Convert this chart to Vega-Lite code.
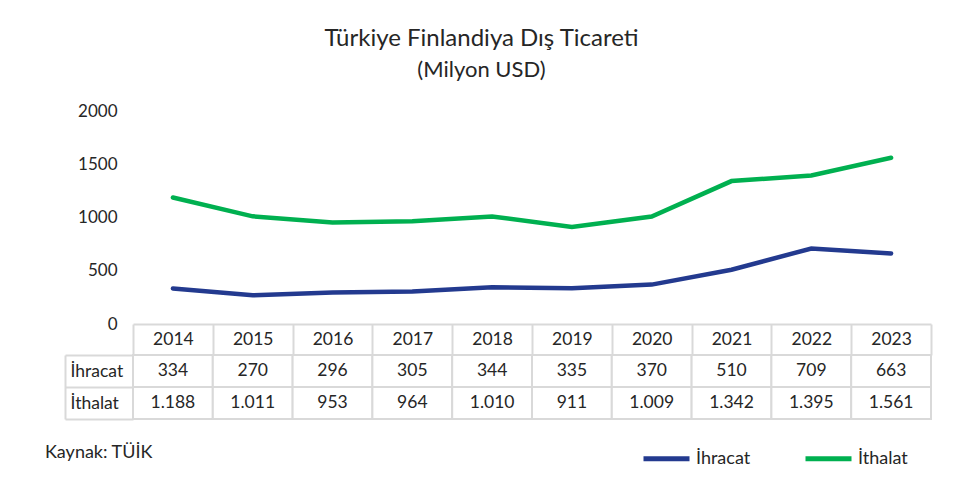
{
  "$schema": "https://vega.github.io/schema/vega-lite/v6.json",
  "padding": {"left": 45, "top": 27, "right": 20, "bottom": 10},
  "bounds": "flush",
  "spacing": 31,
  "config": {
    "font": "Lato",
    "view": {"stroke": null},
    "locale": {"number": {"decimal": ",", "thousands": ".", "grouping": [3], "currency": ["", " TL"]}},
    "axis": {"labelFont": "Lato", "labelColor": "#262626", "labelFontSize": 17.5}
  },
  "title": {
    "text": "Türkiye Finlandiya Dış Ticareti",
    "subtitle": "(Milyon USD)",
    "fontSize": 24,
    "subtitleFontSize": 22,
    "fontWeight": "normal",
    "color": "#262626",
    "subtitleColor": "#262626",
    "subtitleFont": "Lato",
    "anchor": "middle",
    "frame": "bounds",
    "subtitlePadding": 9,
    "offset": 21,
    "dx": -7
  },
  "datasets": {
    "trade": [
      {"year": "2014", "series": "İhracat", "value": 334},
      {"year": "2015", "series": "İhracat", "value": 270},
      {"year": "2016", "series": "İhracat", "value": 296},
      {"year": "2017", "series": "İhracat", "value": 305},
      {"year": "2018", "series": "İhracat", "value": 344},
      {"year": "2019", "series": "İhracat", "value": 335},
      {"year": "2020", "series": "İhracat", "value": 370},
      {"year": "2021", "series": "İhracat", "value": 510},
      {"year": "2022", "series": "İhracat", "value": 709},
      {"year": "2023", "series": "İhracat", "value": 663},
      {"year": "2014", "series": "İthalat", "value": 1188},
      {"year": "2015", "series": "İthalat", "value": 1011},
      {"year": "2016", "series": "İthalat", "value": 953},
      {"year": "2017", "series": "İthalat", "value": 964},
      {"year": "2018", "series": "İthalat", "value": 1010},
      {"year": "2019", "series": "İthalat", "value": 911},
      {"year": "2020", "series": "İthalat", "value": 1009},
      {"year": "2021", "series": "İthalat", "value": 1342},
      {"year": "2022", "series": "İthalat", "value": 1395},
      {"year": "2023", "series": "İthalat", "value": 1561}
    ]
  },
  "vconcat": [
    {
      "width": 798,
      "height": 213,
      "data": {"name": "trade"},
      "mark": {"type": "line", "strokeWidth": 4.5, "strokeCap": "round"},
      "encoding": {
        "x": {
          "field": "year", "type": "ordinal",
          "scale": {"type": "band", "paddingInner": 0, "paddingOuter": 0},
          "axis": {
            "title": null, "labelAngle": 0,
            "domainColor": "#d9d9d9", "domainWidth": 2,
            "tickBand": "extent", "tickSize": 31, "tickColor": "#d9d9d9", "tickWidth": 2,
            "labelBaseline": "middle", "labelPadding": -15.5
          }
        },
        "y": {
          "field": "value", "type": "quantitative",
          "scale": {"domain": [0, 2000]},
          "axis": {
            "title": null, "values": [0, 500, 1000, 1500, 2000], "format": "d",
            "grid": false, "domain": false, "ticks": false, "labelPadding": 16,
            "labelFontSize": 17
          }
        },
        "color": {
          "field": "series", "type": "nominal",
          "scale": {"domain": ["İhracat", "İthalat"], "range": ["#233a8f", "#00b050"]},
          "legend": {
            "title": null, "orient": "none", "legendX": 508, "legendY": 322,
            "direction": "horizontal", "symbolType": "stroke", "symbolSize": 2116,
            "symbolStrokeWidth": 5, "labelFontSize": 18, "labelColor": "#262626",
            "labelOffset": 4, "columnPadding": 44, "labelFont": "Lato"
          }
        }
      }
    },
    {
      "width": 798,
      "height": 64,
      "data": {"name": "trade"},
      "title": {
        "text": "Kaynak: TÜİK", "orient": "bottom", "anchor": "start", "frame": "group",
        "dx": -88, "offset": 24, "fontSize": 18, "fontWeight": "normal", "color": "#262626"
      },
      "encoding": {
        "x": {
          "field": "year", "type": "ordinal",
          "scale": {"type": "band", "paddingInner": 0, "paddingOuter": 0},
          "axis": null
        },
        "y": {
          "field": "series", "type": "nominal", "sort": ["İhracat", "İthalat"],
          "scale": {"paddingInner": 0, "paddingOuter": 0},
          "axis": {
            "title": null, "orient": "left", "offset": 68,
            "domain": true, "domainColor": "#d9d9d9", "domainWidth": 2,
            "ticks": true, "tickBand": "extent", "tickSize": -68, "tickColor": "#d9d9d9", "tickWidth": 2,
            "labelAlign": "left", "labelPadding": 63, "labelBaseline": "middle"
          }
        }
      },
      "layer": [
        {"mark": {"type": "rect", "fill": "white", "stroke": "#d9d9d9", "strokeWidth": 2}},
        {
          "mark": {"type": "text", "fontSize": 17.5, "color": "#262626"},
          "encoding": {"text": {"field": "value", "type": "quantitative", "format": ",d"}}
        }
      ]
    }
  ]
}
